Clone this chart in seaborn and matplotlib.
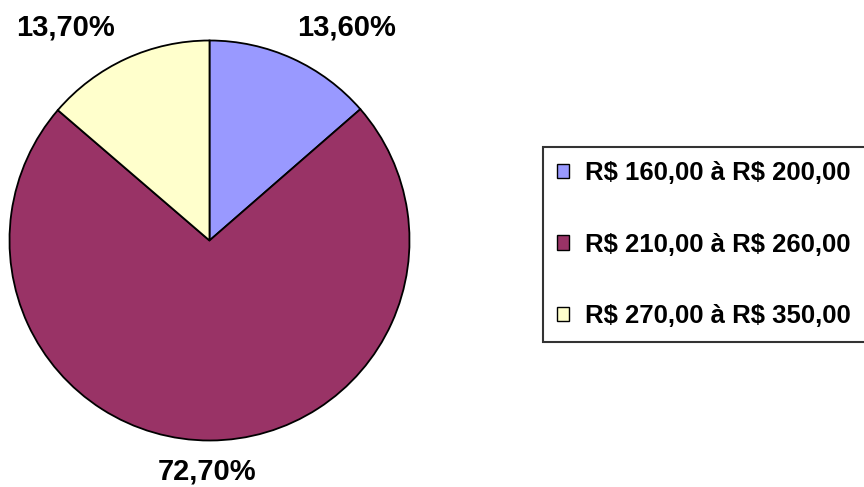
import matplotlib
matplotlib.use("Agg")
import matplotlib.pyplot as plt
import seaborn as sns
from matplotlib.patches import Patch

categories = ["R\\$ 160,00 à R\\$ 200,00", "R\\$ 210,00 à R\\$ 260,00", "R\\$ 270,00 à R\\$ 350,00"]
values = [13.6, 72.7, 13.7]
value_labels = ["13,60%", "72,70%", "13,70%"]
colors = ["#9999FF", "#993366", "#FFFFCC"]

sns.set_style("white")
plt.rcParams["font.family"] = ["Liberation Sans", "DejaVu Sans"]
plt.rcParams["text.color"] = "black"

W, H = 864, 487
fig = plt.figure(figsize=(W / 100, H / 100), dpi=100)
ax = fig.add_axes([0, 0, 1, 1])
ax.set_xlim(0, W)
ax.set_ylim(0, H)
ax.set_aspect("equal")
ax.axis("off")

cx, cy, r = 209.5, H - 240.5, 200
wedges, _ = ax.pie(values, colors=colors, startangle=90, counterclock=False,
                   center=(cx, cy), radius=r,
                   wedgeprops=dict(edgecolor="black", linewidth=1.3))
ax.set_xlim(0, W)
ax.set_ylim(0, H)

label_pos = [(347, 27), (207, 472), (66, 27)]
for (px, py), txt in zip(label_pos, value_labels):
    ax.text(px, H - py, txt, ha="center", va="center", fontsize=21,
            fontweight="bold", color="black")

handles = [Patch(facecolor=c, edgecolor="black", linewidth=1.0) for c in colors]
leg = fig.legend(handles, categories, loc="upper left",
                 bbox_to_anchor=(543 / W, 0, 0.42, 1 - 147 / H), mode="expand",
                 frameon=True, fancybox=False, edgecolor="black",
                 prop=dict(size=18.5, weight="bold"), labelcolor="black",
                 handlelength=0.48, handleheight=0.48, handletextpad=0.6,
                 labelspacing=1.85, borderpad=0.55, borderaxespad=0)
leg.get_frame().set_linewidth(1.5)

fig.savefig("out.png", dpi=100)
